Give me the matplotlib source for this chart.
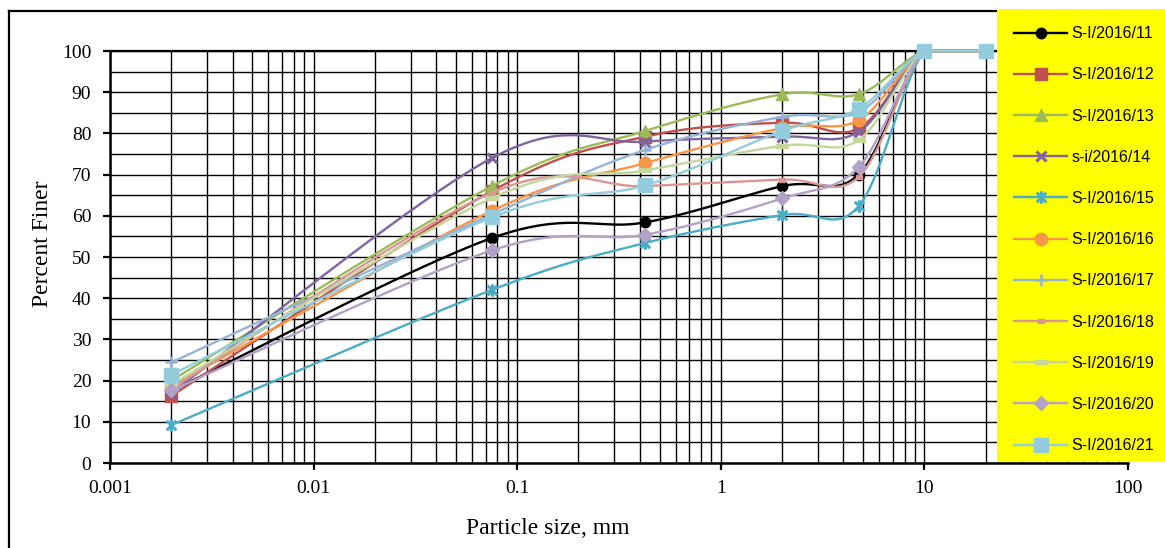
import numpy as np
import matplotlib
matplotlib.use("Agg")
import matplotlib.pyplot as plt
from matplotlib.path import Path
from matplotlib.patches import Rectangle
from matplotlib.lines import Line2D
from matplotlib.ticker import LogLocator, FixedLocator, NullFormatter

# ---------------- data ----------------
sizes_mm = [0.002, 0.075, 0.425, 2.0, 4.75, 10.0, 20.0]

labels = ["S-I/2016/11", "S-I/2016/12", "S-I/2016/13", "s-i/2016/14", "S-I/2016/15",
          "S-I/2016/16", "S-I/2016/17", "S-I/2016/18", "S-I/2016/19", "S-I/2016/20",
          "S-I/2016/21"]

s11 = [17.5, 54.6, 58.4, 67.2, 70.0, 100, 100]
s12 = [16.3, 66.0, 79.2, 82.6, 81.2, 100, 100]
s13 = [20.0, 67.2, 80.6, 89.5, 89.5, 100, 100]
s14 = [17.0, 74.0, 78.0, 79.2, 80.4, 100, 100]
s15 = [9.2, 42.0, 53.4, 60.2, 62.3, 100, 100]
s16 = [18.6, 61.2, 72.8, 81.3, 83.2, 100, 100]
s17 = [24.4, 60.3, 76.0, 84.0, 85.2, 100, 100]
s18 = [18.0, 65.6, 67.2, 68.8, 69.4, 100, 100]
s19 = [19.0, 64.3, 71.0, 77.0, 78.4, 100, 100]
s20 = [17.6, 51.6, 55.4, 64.2, 71.8, 100, 100]
s21 = [21.4, 59.6, 67.4, 80.6, 86.0, 100, 100]
series = [s11, s12, s13, s14, s15, s16, s17, s18, s19, s20, s21]

colors = ["#000000", "#C0504D", "#9BBB59", "#8064A2", "#4BACC6", "#F79646",
          "#95B3D7", "#D99694", "#C3D69B", "#B3A2C7", "#93CDDD"]

# ---------------- markers ----------------
ast_path = Path([(-1, -1), (1, 1), (-1, 1), (1, -1), (0, -1.3), (0, 1.3)],
                [Path.MOVETO, Path.LINETO, Path.MOVETO, Path.LINETO, Path.MOVETO, Path.LINETO])
bar_short = Path([(-0.5, -0.35), (0.5, -0.35), (0.5, 0.35), (-0.5, 0.35), (-0.5, -0.35)],
                 [Path.MOVETO, Path.LINETO, Path.LINETO, Path.LINETO, Path.CLOSEPOLY])
bar_long = Path([(-1, -0.3), (1, -0.3), (1, 0.3), (-1, 0.3), (-1, -0.3)],
                [Path.MOVETO, Path.LINETO, Path.LINETO, Path.LINETO, Path.CLOSEPOLY])

marker_specs = [
    dict(marker="o", ms=7.5),
    dict(marker="s", ms=8),
    dict(marker="^", ms=8.5),
    dict(marker="x", ms=7.5, mew=2.2),
    dict(marker=ast_path, ms=9, mew=2.2),
    dict(marker="o", ms=9),
    dict(marker="+", ms=8, mew=1.8),
    dict(marker=bar_short, ms=5),
    dict(marker=bar_long, ms=9),
    dict(marker="D", ms=7),
    dict(marker="s", ms=10),
]


def smooth(xs, ys, n=40):
    """Excel-like Catmull-Rom Bezier smoothing in (log10 x, y) space."""
    lx = np.log10(np.asarray(xs, float))
    yy = np.asarray(ys, float)
    P = np.column_stack([lx, yy])
    m = len(P)
    out = []
    t = np.linspace(0, 1, n, endpoint=False)[:, None]
    for i in range(m - 1):
        p0 = P[i]
        p3 = P[i + 1]
        pm = P[i - 1] if i > 0 else P[i]
        pp = P[i + 2] if i + 2 < m else P[i + 1]
        c1 = p0 + (p3 - pm) / 6.0
        c2 = p3 - (pp - p0) / 6.0
        b = ((1 - t) ** 3) * p0 + 3 * ((1 - t) ** 2) * t * c1 + 3 * (1 - t) * t ** 2 * c2 + t ** 3 * p3
        out.append(b)
    out.append(P[-1][None, :])
    B = np.vstack(out)
    return 10 ** B[:, 0], np.minimum(B[:, 1], 100.0), [i * n for i in range(m)]


# ---------------- figure ----------------
W, H = 1165, 548
fig = plt.figure(figsize=(W / 100, H / 100), dpi=100)
ax = fig.add_axes([110 / W, 1 - 463 / H, (1128 - 110) / W, (463 - 51) / H])

ax.set_xscale("log")
ax.set_xlim(0.001, 100)
ax.set_ylim(0, 100)

handles = []
for ys, lab, col, spec in zip(series, labels, colors, marker_specs):
    sx, sy, idx = smooth(sizes_mm, ys)
    spec = dict(spec)
    mew = spec.pop("mew", 1.0)
    ln, = ax.plot(sx, sy, color=col, lw=1.7, markevery=idx,
                  markerfacecolor=col, markeredgecolor=col, markeredgewidth=mew,
                  label=lab, zorder=3, clip_on=False, **spec)
    handles.append(ln)

# grid
ax.xaxis.set_minor_locator(LogLocator(base=10, subs=np.arange(2, 10), numticks=20))
ax.xaxis.set_minor_formatter(NullFormatter())
ax.set_xticks([0.001, 0.01, 0.1, 1, 10, 100])
ax.set_xticklabels(["0.001", "0.01", "0.1", "1", "10", "100"])
ax.yaxis.set_major_locator(FixedLocator(np.arange(0, 101, 10)))
ax.yaxis.set_minor_locator(FixedLocator(np.arange(5, 100, 10)))
ax.grid(which="major", axis="both", color="black", lw=1.0, zorder=1)
ax.grid(which="minor", axis="both", color="black", lw=1.0, zorder=1)
ax.set_axisbelow(True)

ax.spines["right"].set_visible(False)
ax.spines["top"].set_linewidth(1.6)
ax.spines["left"].set_linewidth(1.8)
ax.spines["bottom"].set_linewidth(1.8)

ax.tick_params(axis="both", which="major", direction="out", length=5, width=1.6,
               labelsize=14)
ax.tick_params(axis="y", which="major", pad=8.5)
ax.tick_params(axis="x", which="major", pad=7, top=False)
ax.tick_params(axis="both", which="minor", length=0)
for lbl in ax.get_xticklabels() + ax.get_yticklabels():
    lbl.set_fontfamily("Liberation Serif")

fig.text(548 / W, 1 - 528 / H, "Particle size, mm", ha="center", va="center",
         fontsize=17, family="Liberation Serif")
fig.text(42 / W, 1 - 244 / H, "Percent Finer", ha="center", va="center",
         rotation=90, fontsize=17, family="Liberation Serif")

# outer border (left and top)
fig.add_artist(Line2D([9 / W, 9 / W], [0, 1 - 11 / H], color="black", lw=1.6,
                      transform=fig.transFigure))
fig.add_artist(Line2D([9 / W, 1], [1 - 11 / H, 1 - 11 / H], color="black", lw=1.6,
                      transform=fig.transFigure))

# yellow legend panel
fig.patches.append(Rectangle((997 / W, 1 - 462 / H), (W - 997) / W, (462 - 10) / H,
                             transform=fig.transFigure, facecolor="#FFFF00",
                             edgecolor="none", zorder=4))
leg = fig.legend(handles=handles, loc="upper left",
                 bbox_to_anchor=(1011 / W, 1 - 23 / H), frameon=False,
                 prop=dict(family="Liberation Sans", size=11.5),
                 labelspacing=1.64, handlelength=3.3, handletextpad=0.3,
                 borderaxespad=0, borderpad=0.2)
leg.set_zorder(5)

fig.savefig("out.png", dpi=100)
